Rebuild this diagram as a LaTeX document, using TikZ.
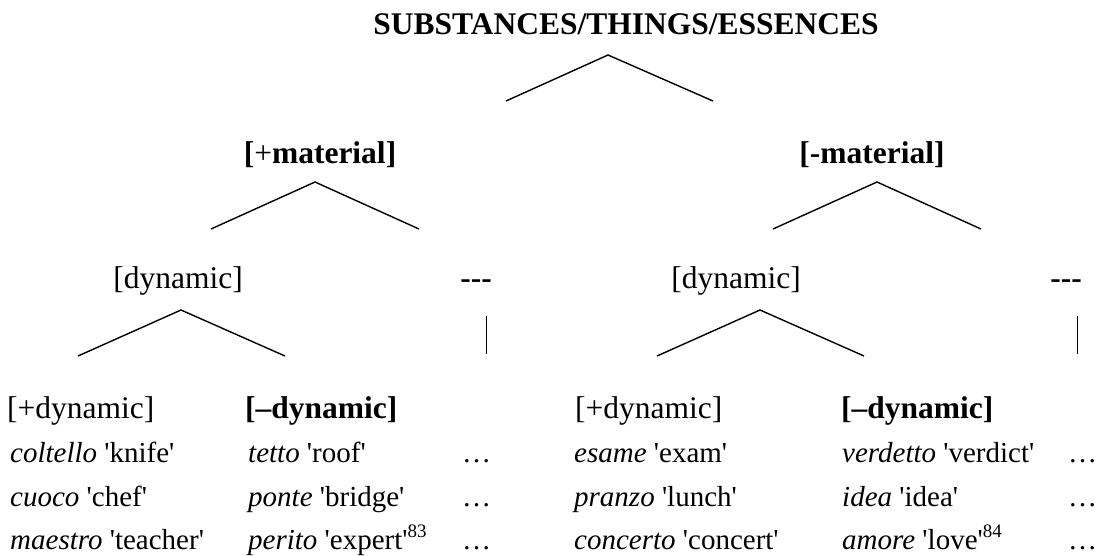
\documentclass[tikz,border=0pt]{standalone}
\usepackage{fontspec}
\setmainfont{Liberation Serif}[Ligatures=TeXOff]
\newcommand{\fnmark}[1]{\raisebox{12pt}{\fontsize{19}{19}\selectfont #1}}
\begin{document}
\begin{tikzpicture}[x=1pt,y=-1pt,
  lbl/.style={inner sep=0pt, anchor=base, font=\fontsize{31.5}{36}\selectfont},
  cell/.style={inner sep=0pt, anchor=base west, font=\fontsize{29}{34}\selectfont},
  headcell/.style={cell, font=\fontsize{31.5}{36}\selectfont},
  branch/.style={line width=1.4pt},
  bar/.style={line width=1pt}]
\useasboundingbox (0,0) rectangle (1103,555);

% root
\node[lbl] (root) at (626,34) {\bfseries SUBSTANCES/THINGS/ESSENCES};
\coordinate (rootApex) at (608,55);
\coordinate (rootL) at (506,101);
\coordinate (rootR) at (713,101);
\draw[branch] (rootL) -- (rootApex) -- (rootR);

% material level
\node[lbl] (matP) at (320,163) {\textbf{[}+\textbf{material]}};
\node[lbl] (matM) at (872,163) {\bfseries [-material]};
\coordinate (matPApex) at (315,182);
\coordinate (matPL) at (211,229);
\coordinate (matPR) at (419,229);
\coordinate (matMApex) at (877,182);
\coordinate (matML) at (773,229);
\coordinate (matMR) at (981,229);
\draw[branch] (matPL) -- (matPApex) -- (matPR);
\draw[branch] (matML) -- (matMApex) -- (matMR);

% dynamic level
\node[lbl] (dynL) at (178,288) {[dynamic]};
\node[lbl] (gapL) at (476,288) {\bfseries -{}-{}-};
\node[lbl] (dynR) at (736,288) {[dynamic]};
\node[lbl] (gapR) at (1066,288) {\bfseries -{}-{}-};
\coordinate (dynLApex) at (181,310);
\coordinate (dynLL) at (78,356);
\coordinate (dynLR) at (285,356);
\coordinate (dynRApex) at (760,310);
\coordinate (dynRL) at (657,356);
\coordinate (dynRR) at (864,356);
\draw[branch] (dynLL) -- (dynLApex) -- (dynLR);
\draw[branch] (dynRL) -- (dynRApex) -- (dynRR);
\coordinate (barLTop) at (486,316);
\coordinate (barLBot) at (486,354);
\coordinate (barRTop) at (1077,316);
\coordinate (barRBot) at (1077,354);
\draw[bar] (barLTop) -- (barLBot);
\draw[bar] (barRTop) -- (barRBot);

% table of examples
\node[headcell] (h1) at (7,418) {[+dynamic]};
\node[headcell] (h2) at (245,418) {\bfseries [–dynamic]};
\node[headcell] (h3) at (575,418) {[+dynamic]};
\node[headcell] (h4) at (841,418) {\bfseries [–dynamic]};

\node[cell] (a1) at (10,462) {\itshape coltello \upshape 'knife'};
\node[cell] (a2) at (248,462) {\itshape tetto \upshape 'roof'};
\node[cell] (a3) at (462,462) {…};
\node[cell] (a4) at (574,462) {\itshape esame \upshape 'exam'};
\node[cell] (a5) at (842,462) {\itshape verdetto \upshape 'verdict'};
\node[cell] (a6) at (1068,462) {…};

\node[cell] (b1) at (10,506) {\itshape cuoco \upshape 'chef'};
\node[cell] (b2) at (248,506) {\itshape ponte \upshape 'bridge'};
\node[cell] (b3) at (462,506) {…};
\node[cell] (b4) at (574,506) {\itshape pranzo \upshape 'lunch'};
\node[cell] (b5) at (842,506) {\itshape idea \upshape 'idea'};
\node[cell] (b6) at (1068,506) {…};

\node[cell] (c1) at (10,549) {\itshape maestro \upshape 'teacher'};
\node[cell] (c2) at (248,549) {\itshape perito \upshape 'expert'\fnmark{83}};
\node[cell] (c3) at (462,549) {…};
\node[cell] (c4) at (574,549) {\itshape concerto \upshape 'concert'};
\node[cell] (c5) at (842,549) {\itshape amore \upshape 'love'\fnmark{84}};
\node[cell] (c6) at (1068,549) {…};
\end{tikzpicture}
\end{document}
